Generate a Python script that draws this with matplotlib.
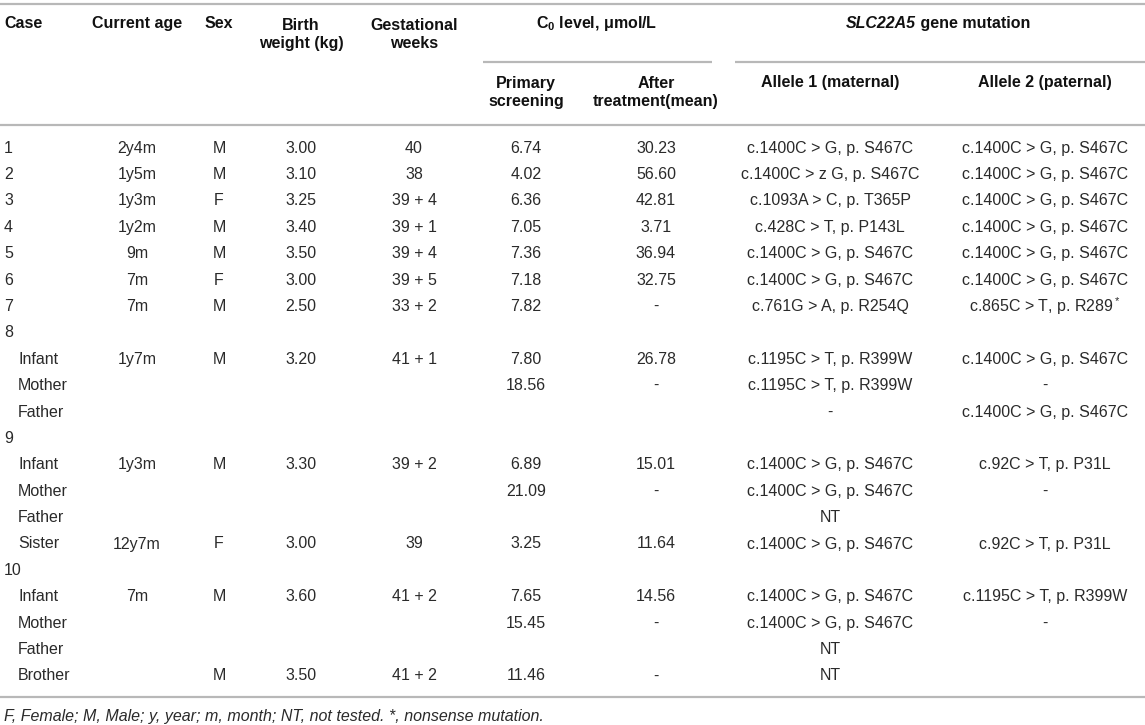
import matplotlib.pyplot as plt

plt.rcParams["font.family"] = ["Liberation Sans", "DejaVu Sans"]
plt.rcParams["mathtext.default"] = "regular"

S467C = "c.1400C > G, p. S467C"
R399W = "c.1195C > T, p. R399W"
P31L = "c.92C > T, p. P31L"

cases = ["1", "2", "3", "4", "5", "6", "7", "8", "Infant", "Mother", "Father",
         "9", "Infant", "Mother", "Father", "Sister", "10", "Infant", "Mother",
         "Father", "Brother"]
ages = ["2y4m", "1y5m", "1y3m", "1y2m", "9m", "7m", "7m", "", "1y7m", "", "",
        "", "1y3m", "", "", "12y7m", "", "7m", "", "", ""]
sexes = ["M", "M", "F", "M", "M", "F", "M", "", "M", "", "",
         "", "M", "", "", "F", "", "M", "", "", "M"]
birth_weight = ["3.00", "3.10", "3.25", "3.40", "3.50", "3.00", "2.50", "", "3.20", "", "",
                "", "3.30", "", "", "3.00", "", "3.60", "", "", "3.50"]
gest_weeks = ["40", "38", "39 + 4", "39 + 1", "39 + 4", "39 + 5", "33 + 2", "", "41 + 1", "", "",
              "", "39 + 2", "", "", "39", "", "41 + 2", "", "", "41 + 2"]
c0_primary = ["6.74", "4.02", "6.36", "7.05", "7.36", "7.18", "7.82", "", "7.80", "18.56", "",
              "", "6.89", "21.09", "", "3.25", "", "7.65", "15.45", "", "11.46"]
c0_after = ["30.23", "56.60", "42.81", "3.71", "36.94", "32.75", "-", "", "26.78", "-", "",
            "", "15.01", "-", "", "11.64", "", "14.56", "-", "", "-"]
allele1 = [S467C, "c.1400C > z G, p. S467C", "c.1093A > C, p. T365P", "c.428C > T, p. P143L",
           S467C, S467C, "c.761G > A, p. R254Q", "", R399W, R399W, "-",
           "", S467C, S467C, "NT", S467C, "", S467C, S467C, "NT", "NT"]
allele2 = [S467C, S467C, S467C, S467C, S467C, S467C, "c.865C > T, p. R289$^*$", "", S467C, "-", S467C,
           "", P31L, "-", "", P31L, "", R399W, "-", "", ""]

footnote = "F, Female; M, Male; y, year; m, month; NT, not tested. *, nonsense mutation."

W, H = 1145, 725
fig = plt.figure(figsize=(W / 100, H / 100), dpi=100)
ax = fig.add_axes([0, 0, 1, 1])
ax.set_xlim(0, W)
ax.set_ylim(H, 0)
ax.axis("off")

fs = 11.5
rule_kw = dict(color="#b8b8b8", lw=1.6, solid_capstyle="butt")
hdr_kw = dict(fontsize=fs, fontweight="bold", color="#111111", va="center", linespacing=1.25)
cell_kw = dict(fontsize=fs, color="#2a2a2a", va="center")

# rules
ax.axhline(4, **rule_kw)
ax.axhline(125, **rule_kw)
ax.axhline(697, **rule_kw)
ax.plot([483, 712], [62, 62], **rule_kw)
ax.plot([735, W], [62, 62], **rule_kw)

# header
col_x = [4, 137, 219, 301, 414, 526, 656, 830, 1045]
ax.text(col_x[0], 23, "Case", ha="left", **hdr_kw)
ax.text(col_x[1], 23, "Current age", ha="center", **hdr_kw)
ax.text(col_x[2], 23, "Sex", ha="center", **hdr_kw)
ax.text(col_x[3], 34, "Birth\nweight (kg)", ha="center", **hdr_kw)
ax.text(col_x[4], 34, "Gestational\nweeks", ha="center", **hdr_kw)
ax.text(597, 23, "C$_0$ level, \u03bcmol/L", ha="center", **hdr_kw)
ax.text(col_x[5], 92, "Primary\nscreening", ha="center", **hdr_kw)
ax.text(col_x[6], 92, "After\ntreatment(mean)", ha="center", **hdr_kw)
ax.text(col_x[7], 82, "Allele 1 (maternal)", ha="center", **hdr_kw)
ax.text(col_x[8], 82, "Allele 2 (paternal)", ha="center", **hdr_kw)

# SLC22A5 gene mutation (italic part + plain part), centred together
renderer = fig.canvas.get_renderer()
t1 = ax.text(0, 23, "SLC22A5", ha="left", style="italic", **hdr_kw)
t2 = ax.text(0, 23, " gene mutation", ha="left", **hdr_kw)
w1 = t1.get_window_extent(renderer).width
w2 = t2.get_window_extent(renderer).width
left = 938 - (w1 + w2) / 2
t1.set_x(left)
t2.set_x(left + w1)

# body
row_y0, pitch = 148, 26.4
columns = [ages, sexes, birth_weight, gest_weeks, c0_primary, c0_after, allele1, allele2]
for i, case in enumerate(cases):
    y = row_y0 + i * pitch
    x = col_x[0] if case[0].isdigit() else 18
    ax.text(x, y, case, ha="left", **cell_kw)
    for col, cx in zip(columns, col_x[1:]):
        if col[i]:
            ax.text(cx, y, col[i], ha="center", **cell_kw)

ax.text(4, 716, footnote, ha="left", style="italic", **cell_kw)

fig.savefig("out.png", dpi=100)
